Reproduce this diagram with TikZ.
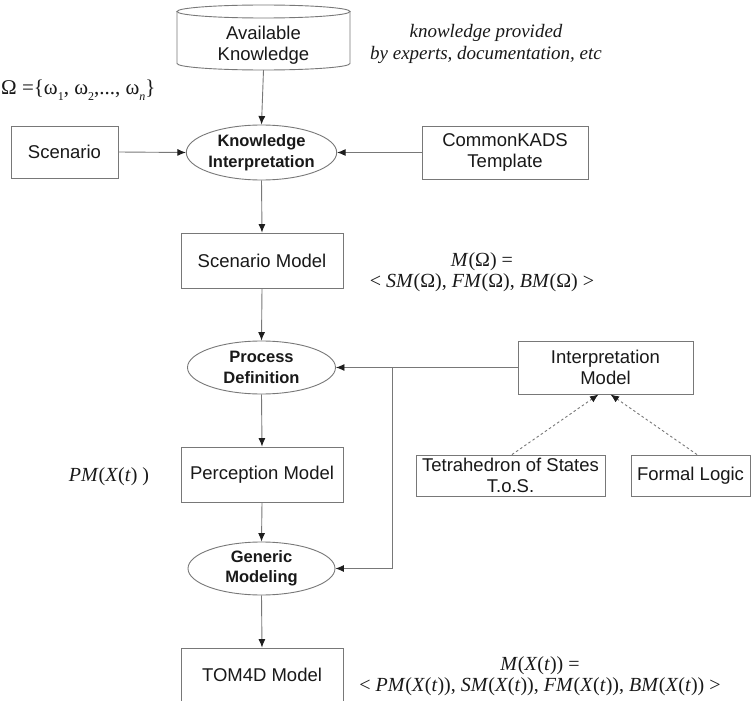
\documentclass[tikz,border=0pt]{standalone}
\usepackage{fontspec}
\setmainfont{Liberation Serif}
\newfontfamily\boxfont{Liberation Sans}
\usetikzlibrary{arrows.meta,shapes.geometric}

\definecolor{linegray}{RGB}{120,120,120}
\definecolor{tipgray}{RGB}{30,30,30}
\definecolor{textblack}{RGB}{25,25,25}

% small lowered index for the set notation
\newcommand\lowidx[1]{\raisebox{-0.3em}{\fontsize{12}{12}\selectfont #1}}

\begin{document}
\begin{tikzpicture}[x=1pt,y=-1pt,
  line/.style={draw=linegray, line width=0.9pt},
  arr/.style={line, -{Latex[length=8.5pt,width=7pt,color=tipgray]}},
  dasharr/.style={arr, dash pattern=on 2.5pt off 2.5pt},
  box/.style={draw=linegray, line width=0.9pt, fill=white, rectangle,
    align=center, inner sep=0pt, text=textblack,
    font=\boxfont\fontsize{18.5}{21.5}\selectfont},
  oval/.style={draw=linegray, line width=0.9pt, fill=white, ellipse,
    align=center, inner sep=0pt, text=textblack,
    font=\boxfont\bfseries\fontsize{16.5}{20.5}\selectfont},
  note/.style={align=center, inner sep=0pt, text=textblack,
    font=\fontsize{20}{21.5}\selectfont}
]
% page
\fill[white] (0,0) rectangle (756,701);
\useasboundingbox (0,0) rectangle (756,701);

% knowledge store (cylinder)
\path[line, fill=white] (177,11.5) -- (177,63.5)
  .. controls (177,67.09) and (215.73,70) .. (263.5,70)
  .. controls (311.27,70) and (350,67.09) .. (350,63.5) -- (350,11.5);
\path[line, fill=white] (263.5,11.5) ellipse [x radius=86.5pt, y radius=6.5pt];
\node[align=center, inner sep=0pt, text=textblack,
  font=\boxfont\fontsize{18.5}{20.5}\selectfont,
  minimum width=173pt, minimum height=50pt] (ak) at (263.5,45) {Available\\Knowledge};

% main chain
\node[oval, minimum width=147pt, minimum height=55pt] (ki) at (261.5,152.5) {Knowledge\\Interpretation};
\node[box, minimum width=107pt, minimum height=52pt] (sc) at (64.5,152) {Scenario};
\node[box, minimum width=166pt, minimum height=53pt] (ck) at (505,152.5) {CommonKADS\\Template};
\node[box, minimum width=162pt, minimum height=55pt] (sm) at (262,260.5) {Scenario Model};
\node[oval, minimum width=148pt, minimum height=53pt] (pd) at (261.5,367.5) {Process\\Definition};
\node[box, minimum width=162pt, minimum height=55pt] (pm) at (262,474.5) {Perception Model};
\node[oval, minimum width=147pt, minimum height=53pt] (gm) at (261.5,568.5) {Generic\\Modeling};
\node[box, minimum width=162pt, minimum height=54pt] (tm) at (262,675) {TOM4D Model};

% interpretation side
\node[box, minimum width=175pt, minimum height=53pt] (im) at (605.5,367.5) {Interpretation\\Model};
\node[box, minimum width=189pt, minimum height=41pt] (tos) at (510.5,475.5) {Tetrahedron of States\\T.o.S.};
\node[box, minimum width=119pt, minimum height=41pt] (fl) at (690.5,475.5) {Formal Logic};
\coordinate (j) at (392,367.5);

% annotations
\node[note, font=\itshape\fontsize{19}{22}\selectfont] (src) at (486,44)
  {knowledge provided\\by experts, documentation, etc};
\node[note, anchor=west, font=\fontsize{21}{22}\selectfont] (omega) at (1,90)
  {Ω =\{ω\lowidx{1}, ω\lowidx{2},..., ω\lowidx{\itshape n}\}};
\node[note] (mom) at (482,272)
  {\textit{M}(Ω) =\\< \textit{SM}(Ω), \textit{FM}(Ω), \textit{BM}(Ω) >};
\node[note] (pmx) at (109,477) {\textit{PM}(\textit{X}(\textit{t}) )};
\node[note] (mx) at (540,676)
  {\textit{M}(\textit{X}(\textit{t})) =\\< \textit{PM}(\textit{X}(\textit{t})), \textit{SM}(\textit{X}(\textit{t})), \textit{FM}(\textit{X}(\textit{t})), \textit{BM}(\textit{X}(\textit{t})) >};

% connectors
\draw[arr] (ak.south) -- (ki.north);
\draw[arr] (sc.east) -- (ki.west);
\draw[arr] (ck.west) -- (ki.east);
\draw[arr] (ki.south) -- (sm.north);
\draw[arr] (sm.south) -- (pd.north);
\draw[arr] (pd.south) -- (pm.north);
\draw[arr] (pm.south) -- (gm.north);
\draw[arr] (gm.south) -- (tm.north);
\draw[arr] (im.west) -- (pd.east);
\draw[arr] (j) |- (gm.east);
\draw[dasharr] ([xshift=1.5pt]tos.north) -- ([xshift=-7pt]im.south);
\draw[dasharr] ([xshift=6.5pt]fl.north) -- ([xshift=5pt]im.south);
\end{tikzpicture}
\end{document}
